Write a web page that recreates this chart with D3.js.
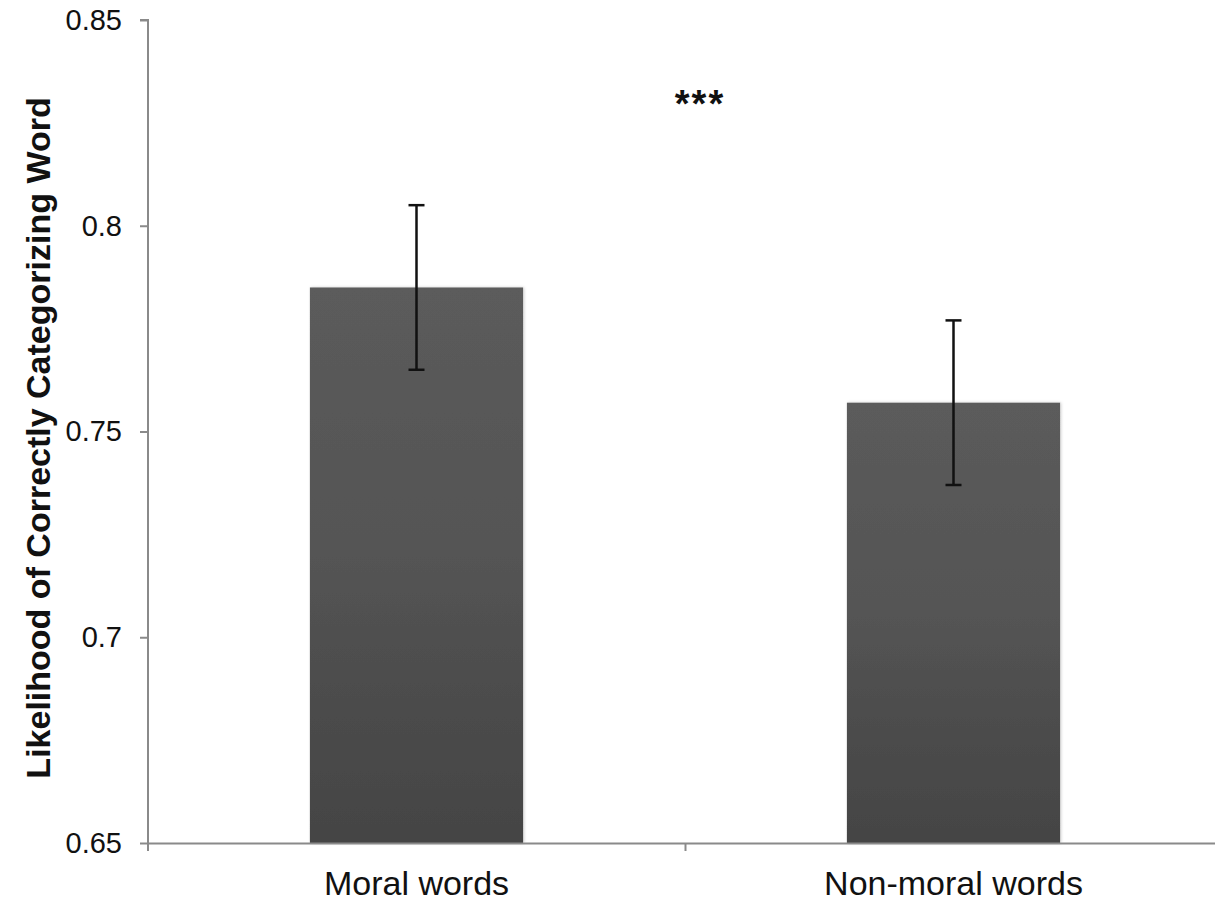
<!DOCTYPE html>
<html>
<head>
<meta charset="utf-8">
<script src="https://cdn.jsdelivr.net/npm/d3@7"></script>
<style>
  body { margin: 0; background: #fff; }
  svg { display: block; font-family: "Liberation Sans", Arial, sans-serif; }
</style>
</head>
<body>
<svg class="chart"></svg>
<script>
// data
var categories = ["Moral words", "Non-moral words"];
var means = [0.785, 0.757];
var errors = [0.020, 0.020];
var yTicks = [0.65, 0.7, 0.75, 0.8, 0.85];
var yTickLabels = ["0.65", "0.7", "0.75", "0.8", "0.85"];
var significance = "***";

var width = 1215, height = 901;
var margin = {top: 20, right: -7, bottom: 58, left: 148};

var svg = d3.select("svg.chart")
  .attr("width", width)
  .attr("height", height);

var plotW = width - margin.left - margin.right,
    plotH = height - margin.top - margin.bottom;

var g = svg.append("g")
  .attr("transform", "translate(" + margin.left + "," + margin.top + ")");

// scales
var x = d3.scaleBand().domain(categories).range([0, plotW]).padding(0);
var y = d3.scaleLinear().domain([0.65, 0.85]).range([plotH, 0]);
var barW = x.bandwidth() * 0.397;

// bar fill gradient + faint shadow
var defs = svg.append("defs");
var grad = defs.append("linearGradient")
  .attr("id", "barGrad")
  .attr("x1", 0).attr("y1", 0).attr("x2", 0).attr("y2", 1);
grad.append("stop").attr("offset", "0%").attr("stop-color", "#5b5b5b");
grad.append("stop").attr("offset", "45%").attr("stop-color", "#555555");
grad.append("stop").attr("offset", "100%").attr("stop-color", "#444444");

var shadow = defs.append("filter").attr("id", "barShadow")
  .attr("x", "-5%").attr("y", "-5%").attr("width", "110%").attr("height", "110%");
shadow.append("feDropShadow")
  .attr("dx", 1).attr("dy", 0).attr("stdDeviation", 1.5)
  .attr("flood-color", "#000").attr("flood-opacity", 0.2);

// bars
g.selectAll("rect.bar")
  .data(means)
  .enter().append("rect")
    .attr("class", "bar")
    .attr("x", function(d, i) { return x(categories[i]) + x.bandwidth() / 2 - barW / 2; })
    .attr("y", function(d) { return y(d); })
    .attr("width", barW)
    .attr("height", function(d) { return plotH - y(d); })
    .style("fill", "url(#barGrad)")
    .style("filter", "url(#barShadow)");

// error bars
var capW = 16;
var eb = g.selectAll("g.err")
  .data(means)
  .enter().append("g")
    .attr("class", "err")
    .attr("transform", function(d, i) { return "translate(" + (x(categories[i]) + x.bandwidth() / 2) + ",0)"; });
eb.append("line")
  .attr("x1", 0).attr("x2", 0)
  .attr("y1", function(d, i) { return y(d + errors[i]); })
  .attr("y2", function(d, i) { return y(d - errors[i]); });
eb.append("line")
  .attr("x1", -capW / 2).attr("x2", capW / 2)
  .attr("y1", function(d, i) { return y(d + errors[i]); })
  .attr("y2", function(d, i) { return y(d + errors[i]); });
eb.append("line")
  .attr("x1", -capW / 2).attr("x2", capW / 2)
  .attr("y1", function(d, i) { return y(d - errors[i]); })
  .attr("y2", function(d, i) { return y(d - errors[i]); });
eb.selectAll("line")
  .style("stroke", "#111")
  .style("stroke-width", 2.5);

// y axis
var yAxis = g.append("g")
  .call(d3.axisLeft(y)
    .tickValues(yTicks)
    .tickFormat(function(d, i) { return yTickLabels[i]; })
    .tickSize(8)
    .tickPadding(18));
yAxis.select(".domain").attr("d", "M0," + (plotH + 8) + "V0H-8").style("stroke", "#8a8a8a").style("stroke-width", 2);
yAxis.selectAll(".tick line").style("stroke", "#8a8a8a").style("stroke-width", 2);
yAxis.selectAll(".tick text")
  .style("font-size", "29px")
  .style("fill", "#111")
  .style("font-family", "'Liberation Sans', Arial, sans-serif");

// x axis: line plus boundary tick between categories
var xb = d3.scaleLinear().domain([0, categories.length]).range([0, plotW]);
var xAxis = g.append("g")
  .attr("transform", "translate(0," + plotH + ")")
  .call(d3.axisBottom(xb).tickValues(d3.range(1, categories.length)).tickSize(8).tickSizeOuter(0).tickFormat(""));
xAxis.select(".domain").style("stroke", "#8a8a8a").style("stroke-width", 2);
xAxis.selectAll(".tick line").style("stroke", "#8a8a8a").style("stroke-width", 2);

// category labels
var xLabels = g.append("g")
  .attr("transform", "translate(0," + plotH + ")")
  .call(d3.axisBottom(x).tickSize(0).tickPadding(28));
xLabels.select(".domain").remove();
xLabels.selectAll(".tick text")
  .style("font-size", "34px")
  .style("fill", "#111")
  .style("font-family", "'Liberation Sans', Arial, sans-serif");

// y title
svg.append("text")
  .attr("transform", "translate(50," + 438 + ") rotate(-90)")
  .style("text-anchor", "middle")
  .style("font-size", "34px")
  .style("font-weight", "bold")
  .style("fill", "#111")
  .text("Likelihood of Correctly Categorizing Word");

// significance stars
g.append("text")
  .attr("x", xb(1) + 15)
  .attr("y", 97)
  .style("text-anchor", "middle")
  .style("font-size", "38px")
  .style("font-weight", "bold")
  .style("letter-spacing", "2px")
  .style("fill", "#111")
  .text(significance);
</script>
</body>
</html>
